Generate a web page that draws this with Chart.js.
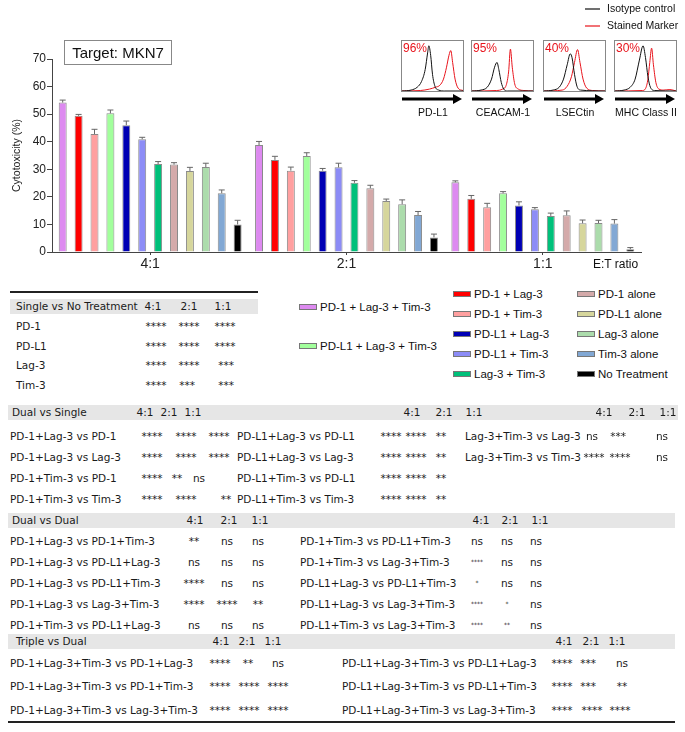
<!DOCTYPE html>
<html>
<head>
<meta charset="utf-8">
<script src="https://cdn.jsdelivr.net/npm/chart.js@4.4.0/dist/chart.umd.min.js"></script>
<style>
  body { margin: 0; background: #fff; }
  #page { position: relative; width: 685px; height: 732px; overflow: hidden; font-family: "Liberation Sans", Arial, sans-serif; color: #111; }
  .abs { position: absolute; white-space: nowrap; }
  .t { font-family: "DejaVu Sans", Verdana, sans-serif; font-size: 10.5px; color: #1a1a1a; line-height: 14px; }
  .tiny { font-size: 6px; }
  .c { transform: translateX(-50%); }
  .gray { position: absolute; background: #e6e6e6; }
  .rule { position: absolute; background: #222; height: 2px; }
  .box { position: absolute; border: 1px solid #888; box-sizing: border-box; }
  .sw { position: absolute; width: 18px; height: 6px; border: 1px solid #777; box-sizing: border-box; }
  .lg { font-size: 11.5px; line-height: 14px; }
</style>
</head>
<body>
<div id="page">
  <canvas id="barChart" width="685" height="275" style="position:absolute;left:0;top:0"></canvas>
  <div class="box" style="left:64px;top:40px;width:108px;height:25px;"></div>
  <div class="abs" style="left:64px;top:44px;width:108px;text-align:center;font-size:15px;">Target: MKN7</div>
  <div class="abs" style="left:593px;top:257px;font-size:12px;">E:T ratio</div>
</div>
<script>
// bar chart data
const categories = ['4:1', '2:1', '1:1'];
const seriesNames = ['PD-1 + Lag-3 + Tim-3', 'PD-1 + Lag-3', 'PD-1 + Tim-3', 'PD-L1 + Lag-3 + Tim-3',
  'PD-L1 + Lag-3', 'PD-L1 + Tim-3', 'Lag-3 + Tim-3', 'PD-1 alone', 'PD-L1 alone', 'Lag-3 alone',
  'Tim-3 alone', 'No Treatment'];
const seriesColors = ['#dd8af0', '#ff0000', '#ffa0a0', '#a2ff9c', '#0000b4', '#8c8cf6', '#00c07a',
  '#d4aaaa', '#d6d69c', '#acdcac', '#82a8d4', '#000000'];
const ratio41 = [54.2, 49.4, 42.8, 50.3, 46, 40.9, 31.9, 31.7, 29.4, 30.8, 21.3, 10];
const ratio21 = [38.8, 33.4, 29.5, 34.8, 29.5, 30.7, 25.1, 23.1, 18.5, 17.3, 13.4, 5.3];
const ratio11 = [25.3, 19.3, 16.2, 21.3, 16.9, 15.5, 13.1, 13.3, 10.4, 10.5, 10.3, 1];
const err41 = [0.9, 0.5, 1.7, 1.2, 1.5, 0.7, 0.9, 0.7, 1.3, 1.4, 1.2, 1.5];
const err21 = [1.3, 1.3, 1.3, 1.2, 0.8, 1.5, 0.8, 1.1, 0.7, 1.6, 1.3, 1.2];
const err11 = [0.5, 1.2, 1.45, 0.6, 1.3, 0.6, 1, 1.6, 1.2, 1, 1.45, 0.6];
const yTicks = [0, 10, 20, 30, 40, 50, 60, 70];

// flow cytometry insets
const insetMarkers = ['PD-L1', 'CEACAM-1', 'LSECtin', 'MHC Class II'];
const insetPercents = ['96%', '95%', '40%', '30%'];
const pdl1Iso = [[0,0],[15,2],[25,8],[32,20],[38,45],[42,80],[44,95],[47,75],[50,35],[54,10],[60,2],[70,0],[100,0]];
const pdl1Stained = [[0,0],[30,1],[45,4],[55,8],[62,12],[68,25],[73,50],[77,75],[80,85],[83,60],[87,25],[92,6],[100,1]];
const ceacamIso = [[0,0],[15,2],[25,8],[32,25],[37,50],[41,60],[44,45],[48,18],[52,4],[58,0],[100,0]];
const ceacamStained = [[0,0],[40,1],[50,4],[56,12],[60,40],[63,88],[66,50],[70,15],[76,4],[85,1],[100,0]];
const lsecIso = [[0,0],[15,2],[25,8],[32,25],[38,55],[43,78],[46,70],[50,35],[54,10],[60,2],[100,0]];
const lsecStained = [[0,0],[30,2],[38,10],[45,30],[50,60],[55,87],[59,60],[64,25],[70,6],[80,1],[100,0]];
const mhcIso = [[0,0],[15,2],[25,8],[33,25],[40,65],[46,95],[50,70],[54,30],[58,8],[65,1],[100,0]];
const mhcStained = [[0,0],[45,1],[50,5],[54,25],[57,60],[60,90],[63,55],[67,18],[72,4],[80,2],[90,3],[100,0]];

// statistics tables
const singleVsNone = [
  ['PD-1', '****', '****', '****'],
  ['PD-L1', '****', '****', '****'],
  ['Lag-3', '****', '****', '***'],
  ['Tim-3', '****', '***', '***']
];
const dualVsSingle = [
  ['PD-1+Lag-3 vs PD-1', '****', '****', '****'],
  ['PD-1+Lag-3 vs Lag-3', '****', '****', '****'],
  ['PD-1+Tim-3 vs PD-1', '****', '**', 'ns'],
  ['PD-1+Tim-3 vs Tim-3', '****', '****', '**'],
  ['PD-L1+Lag-3 vs PD-L1', '****', '****', '**'],
  ['PD-L1+Lag-3 vs Lag-3', '****', '****', '**'],
  ['PD-L1+Tim-3 vs PD-L1', '****', '****', '**'],
  ['PD-L1+Tim-3 vs Tim-3', '****', '****', '**'],
  ['Lag-3+Tim-3 vs Lag-3', 'ns', '***', 'ns'],
  ['Lag-3+Tim-3 vs Tim-3', '****', '****', 'ns']
];
const dualVsDual = [
  ['PD-1+Lag-3 vs PD-1+Tim-3', '**', 'ns', 'ns'],
  ['PD-1+Lag-3 vs PD-L1+Lag-3', 'ns', 'ns', 'ns'],
  ['PD-1+Lag-3 vs PD-L1+Tim-3', '****', 'ns', 'ns'],
  ['PD-1+Lag-3 vs Lag-3+Tim-3', '****', '****', '**'],
  ['PD-1+Tim-3 vs PD-L1+Lag-3', 'ns', 'ns', 'ns'],
  ['PD-1+Tim-3 vs PD-L1+Tim-3', 'ns', 'ns', 'ns'],
  ['PD-1+Tim-3 vs Lag-3+Tim-3', '****', 'ns', 'ns'],
  ['PD-L1+Lag-3 vs PD-L1+Tim-3', '*', 'ns', 'ns'],
  ['PD-L1+Lag-3 vs Lag-3+Tim-3', '****', '*', 'ns'],
  ['PD-L1+Tim-3 vs Lag-3+Tim-3', '****', '**', 'ns']
];
const tripleVsDual = [
  ['PD-1+Lag-3+Tim-3 vs PD-1+Lag-3', '****', '**', 'ns'],
  ['PD-1+Lag-3+Tim-3 vs PD-1+Tim-3', '****', '****', '****'],
  ['PD-1+Lag-3+Tim-3 vs Lag-3+Tim-3', '****', '****', '****'],
  ['PD-L1+Lag-3+Tim-3 vs PD-L1+Lag-3', '****', '***', 'ns'],
  ['PD-L1+Lag-3+Tim-3 vs PD-L1+Tim-3', '****', '***', '**'],
  ['PD-L1+Lag-3+Tim-3 vs Lag-3+Tim-3', '****', '****', '****']
];

const page = document.getElementById('page');

function addDiv(cls, style, text) {
  const d = document.createElement('div');
  d.className = cls;
  d.setAttribute('style', style);
  if (text !== undefined) d.textContent = text;
  page.appendChild(d);
  return d;
}

Chart.defaults.font.family = '"Liberation Sans", Arial, sans-serif';

// error bar caps drawn on top of each bar
const errorBars = {
  id: 'errorBars',
  afterDatasetsDraw(chart) {
    const ctx = chart.ctx;
    const yScale = chart.scales.y;
    const errs = [err41, err21, err11];
    ctx.save();
    ctx.strokeStyle = '#666';
    ctx.lineWidth = 1;
    chart.data.datasets.forEach((ds, i) => {
      const meta = chart.getDatasetMeta(i);
      meta.data.forEach((bar, j) => {
        const top = yScale.getPixelForValue(ds.data[j] + errs[j][i]);
        ctx.beginPath();
        ctx.moveTo(bar.x, bar.y);
        ctx.lineTo(bar.x, top);
        ctx.moveTo(bar.x - 3, top);
        ctx.lineTo(bar.x + 3, top);
        ctx.stroke();
      });
    });
    ctx.restore();
  }
};

new Chart(document.getElementById('barChart').getContext('2d'), {
  type: 'bar',
  data: {
    labels: categories,
    datasets: seriesNames.map((name, i) => ({
      label: name,
      data: [ratio41[i], ratio21[i], ratio11[i]],
      backgroundColor: seriesColors[i],
      borderColor: '#8a8a8a',
      borderWidth: 1,
      categoryPercentage: 0.972,
      barPercentage: 0.5
    }))
  },
  options: {
    responsive: false,
    animation: false,
    layout: { padding: { top: 59, right: 44, left: 0, bottom: 0 } },
    plugins: { legend: { display: false }, tooltip: { enabled: false } },
    scales: {
      x: {
        grid: { display: true, drawOnChartArea: false, offset: false, tickLength: 3, color: '#444' },
        border: { color: '#444', width: 1 },
        ticks: { font: { size: 14 }, color: '#222', padding: 1 },
        afterFit: s => { s.height = 23; }
      },
      y: {
        min: 0,
        max: 70,
        afterBuildTicks: s => { s.ticks = yTicks.map(v => ({ value: v })); },
        ticks: { font: { size: 12 }, color: '#222', padding: 1 },
        grid: { drawOnChartArea: false, tickLength: 5, color: '#444' },
        border: { color: '#444', width: 1 },
        title: { display: true, text: 'Cytotoxicity (%)', font: { size: 10.5 }, color: '#222', padding: { top: 11, bottom: 0 } },
        afterFit: s => { s.width = 52; }
      }
    }
  },
  plugins: [errorBars]
});

// inset histograms
const insetLeft = [401, 471, 543, 614];
const insetCurves = [[pdl1Iso, pdl1Stained], [ceacamIso, ceacamStained], [lsecIso, lsecStained], [mhcIso, mhcStained]];
insetMarkers.forEach((m, i) => {
  const x = insetLeft[i];
  addDiv('box', `left:${x}px;top:40px;width:63px;height:52px;`);
  const cv = document.createElement('canvas');
  cv.width = 61; cv.height = 50;
  cv.setAttribute('style', `position:absolute;left:${x + 1}px;top:41px;`);
  page.appendChild(cv);
  new Chart(cv.getContext('2d'), {
    type: 'line',
    data: {
      datasets: insetCurves[i].map((pts, k) => ({
        data: pts.map(p => ({ x: p[0], y: p[1] })),
        borderColor: k === 0 ? '#111' : '#e8141c',
        borderWidth: 1,
        pointRadius: 0,
        cubicInterpolationMode: 'monotone'
      }))
    },
    options: {
      responsive: false,
      animation: false,
      layout: { padding: 0 },
      plugins: { legend: { display: false }, tooltip: { enabled: false } },
      scales: {
        x: { type: 'linear', min: 0, max: 100, display: false },
        y: { min: 0, max: 105, display: false }
      }
    }
  });
  addDiv('abs', `left:${x + 2}px;top:41px;font-size:12px;color:#e8141c;`, insetPercents[i]);
  addDiv('abs', `left:${x + 32}px;top:106px;font-size:10.5px;transform:translateX(-50%);`, m);
});

// arrows under the insets
const svgNS = 'http://www.w3.org/2000/svg';
const svg = document.createElementNS(svgNS, 'svg');
svg.setAttribute('width', 685);
svg.setAttribute('height', 120);
svg.setAttribute('style', 'position:absolute;left:0;top:0;');
insetLeft.forEach(x => {
  const line = document.createElementNS(svgNS, 'line');
  line.setAttribute('x1', x + 1); line.setAttribute('y1', 99);
  line.setAttribute('x2', x + 54); line.setAttribute('y2', 99);
  line.setAttribute('stroke', '#000'); line.setAttribute('stroke-width', 3);
  svg.appendChild(line);
  const head = document.createElementNS(svgNS, 'polygon');
  head.setAttribute('points', `${x + 52},94 ${x + 61},99 ${x + 52},104`);
  head.setAttribute('fill', '#000');
  svg.appendChild(head);
});
// inset legend
[['#111', 'Isotype control', 9], ['#e8141c', 'Stained Marker', 26]].forEach(([col, txt, y]) => {
  const l = document.createElementNS(svgNS, 'line');
  l.setAttribute('x1', 585); l.setAttribute('y1', y);
  l.setAttribute('x2', 600); l.setAttribute('y2', y);
  l.setAttribute('stroke', col); l.setAttribute('stroke-width', 1.2);
  svg.appendChild(l);
  addDiv('abs', `left:607px;top:${y - 7}px;font-size:10.5px;`, txt);
});
page.appendChild(svg);

// series legend
const legendSpots = [[299, 307], [453, 294], [453, 314], [299, 346], [453, 334], [453, 354], [453, 374],
  [577, 294], [577, 314], [577, 334], [577, 354], [577, 374]];
seriesNames.forEach((name, i) => {
  const [x, y] = legendSpots[i];
  addDiv('sw', `left:${x}px;top:${y - 3}px;background:${seriesColors[i]};`);
  addDiv('abs lg', `left:${x + 21}px;top:${y - 7}px;`, name);
});

// table layout
function header(y, x0, x1, title, titleX, cols) {
  addDiv('gray', `left:${x0}px;top:${y - 7}px;width:${x1 - x0}px;height:15px;`);
  addDiv('abs t', `left:${titleX}px;top:${y - 7}px;`, title);
  cols.forEach(cx => categories.forEach((c, k) => addDiv('abs t c', `left:${cx[k]}px;top:${y - 7}px;`, c)));
}
// valX is either one set of 3 centres, or one set per row
function rows(data, from, to, labelX, valX, ys, tinyVals) {
  for (let r = from; r < to; r++) {
    const y = ys[r - from];
    const xs = Array.isArray(valX[0]) ? valX[r - from] : valX;
    addDiv('abs t', `left:${labelX}px;top:${y - 7}px;`, data[r][0]);
    for (let k = 0; k < 3; k++) {
      const v = data[r][k + 1];
      const small = tinyVals && v.indexOf('*') >= 0;
      addDiv('abs t c' + (small ? ' tiny' : ''), `left:${xs[k]}px;top:${y - 7}px;`, v);
    }
  }
}

// Single vs No Treatment
addDiv('rule', 'left:10px;top:291px;width:248px;');
header(306, 10, 258, 'Single vs No Treatment', 16, [[153, 189, 223]]);
rows(singleVsNone, 0, 4, 16, [[156, 189, 225], [156, 189, 225], [156, 189, 226], [156, 187, 226]],
  [326, 346, 365, 385]);

// Dual vs Single
header(412, 8, 678, 'Dual vs Single', 12, [[145, 169, 193], [412, 444, 474], [604, 637, 668]]);
rows(dualVsSingle, 0, 4, 10, [[152, 186, 219], [152, 186, 219], [152, 177, 199], [152, 186, 226]],
  [436, 457, 478, 499]);
rows(dualVsSingle, 4, 8, 237, [391, 416, 441], [436, 457, 478, 499]);
rows(dualVsSingle, 8, 10, 465, [[592, 618, 662], [594, 620, 662]], [436, 457]);

// Dual vs Dual
header(520, 8, 675, 'Dual vs Dual', 12, [[195, 229, 260], [481, 510, 540]]);
rows(dualVsDual, 0, 5, 10, [194, 227, 258], [541, 562, 583, 604, 625]);
rows(dualVsDual, 5, 10, 300, [477, 507, 536], [541, 562, 583, 604, 625], true);

// Triple vs Dual
header(641, 8, 675, 'Triple vs Dual', 16, [[221, 247, 273], [564, 591, 617]]);
rows(tripleVsDual, 0, 3, 10, [[220, 248, 278], [220, 249, 278], [220, 249, 278]], [663, 686, 710]);
rows(tripleVsDual, 3, 6, 342, [[562, 588, 622], [562, 588, 622], [562, 592, 620]], [663, 686, 710]);
addDiv('rule', 'left:8px;top:721px;width:667px;');
</script>
</body>
</html>
